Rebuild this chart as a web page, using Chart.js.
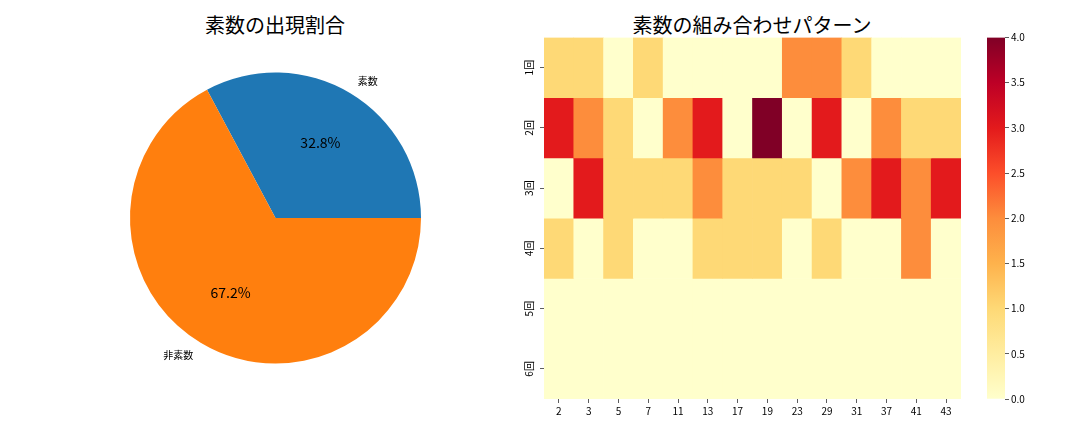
<!DOCTYPE html>
<html>
<head>
<meta charset="utf-8">
<script src="https://cdn.jsdelivr.net/npm/chart.js@4"></script>
<style>
  body { margin: 0; width: 1080px; height: 432px; background: #fff; position: relative; overflow: hidden; }
  .box { position: absolute; top: 0; height: 432px; }
  .title { position: absolute; top: 10px; width: 400px; text-align: center; font: 20px 'Noto Sans CJK JP', sans-serif; color: #000; }
</style>
</head>
<body>
<div class="title" style="left:75px">素数の出現割合</div>
<div class="title" style="left:552px">素数の組み合わせパターン</div>
<div class="box" style="left:0;width:540px"><canvas id="pie"></canvas></div>
<div class="box" style="left:520px;width:460px"><canvas id="heat"></canvas></div>
<div class="box" style="left:980px;width:100px"><canvas id="cbar"></canvas></div>
<script>
//! data
const pieLabels = ['素数', '非素数']
const pieValues = [32.8, 67.2]
const primes = ['2', '3', '5', '7', '11', '13', '17', '19', '23', '29', '31', '37', '41', '43']
const rowLabels = ['1回', '2回', '3回', '4回', '5回', '6回']
const counts = [
  [1, 1, 0, 1, 0, 0, 0, 0, 2, 2, 1, 0, 0, 0],
  [3, 2, 1, 0, 2, 3, 0, 4, 0, 3, 0, 2, 1, 1],
  [0, 3, 1, 1, 1, 2, 1, 1, 1, 0, 2, 3, 2, 3],
  [1, 0, 1, 0, 0, 1, 1, 1, 0, 1, 0, 0, 2, 0],
  [0, 0, 0, 0, 0, 0, 0, 0, 0, 0, 0, 0, 0, 0],
  [0, 0, 0, 0, 0, 0, 0, 0, 0, 0, 0, 0, 0, 0]
]
const cbarTicks = [0, 0.5, 1, 1.5, 2, 2.5, 3, 3.5, 4]
const vmax = 4

Chart.defaults.font.family = "'Noto Sans CJK JP', sans-serif"
Chart.defaults.color = '#000'
Chart.defaults.animation = false
Chart.defaults.plugins.legend.display = false
Chart.defaults.plugins.tooltip.enabled = false

// YlOrRd colormap
const ylOrRd = ['#ffffcc', '#ffeda0', '#fed976', '#feb24c', '#fd8d3c', '#fc4e2a', '#e31a1c', '#bd0026', '#800026']
const hex = h => [1, 3, 5].map(i => parseInt(h.slice(i, i + 2), 16))
function heatColor(v) {
  const t = Math.min(Math.max(v / vmax, 0), 1) * (ylOrRd.length - 1)
  const i = Math.min(Math.floor(t), ylOrRd.length - 2)
  const f = t - i
  const a = hex(ylOrRd[i]), b = hex(ylOrRd[i + 1])
  const c = a.map((x, k) => Math.round(x + (b[k] - x) * f))
  return `rgb(${c[0]},${c[1]},${c[2]})`
}

//! Pie
const total = pieValues.reduce((a, b) => a + b, 0)
const pieText = {
  id: 'pieText',
  afterDatasetsDraw(chart) {
    const ctx = chart.ctx
    chart.getDatasetMeta(0).data.forEach((arc, i) => {
      const mid = (arc.startAngle + arc.endAngle) / 2
      const r = arc.outerRadius
      ctx.save()
      ctx.fillStyle = '#000'
      ctx.textBaseline = 'middle'
      ctx.font = "10px 'Noto Sans CJK JP', sans-serif"
      ctx.textAlign = Math.cos(mid) >= 0 ? 'left' : 'right'
      ctx.fillText(pieLabels[i], arc.x + Math.cos(mid) * r * 1.1, arc.y + Math.sin(mid) * r * 1.1)
      ctx.font = "14px 'Noto Sans CJK JP', sans-serif"
      ctx.textAlign = 'center'
      ctx.fillText((pieValues[i] / total * 100).toFixed(1) + '%', arc.x + Math.cos(mid) * r * 0.6, arc.y + Math.sin(mid) * r * 0.6)
      ctx.restore()
    })
  }
}
new Chart(document.getElementById('pie'), {
  type: 'pie',
  data: {
    labels: pieLabels,
    datasets: [{ data: pieValues, backgroundColor: ['#1f77b4', '#ff7f0e'], borderWidth: 0 }]
  },
  options: {
    responsive: true,
    maintainAspectRatio: false,
    rotation: 90 - 360 * pieValues[0] / total,
    layout: { padding: { left: 130, right: 119, top: 72.5, bottom: 68.5 } }
  },
  plugins: [pieText]
})

//! Heatmap
new Chart(document.getElementById('heat'), {
  type: 'bar',
  data: {
    labels: primes,
    datasets: counts.map((row, r) => ({
      label: rowLabels[r],
      data: row.map(() => [r, r + 1]),
      backgroundColor: row.map(heatColor),
      borderWidth: 0,
      barPercentage: 1,
      categoryPercentage: 1,
      grouped: false
    }))
  },
  options: {
    responsive: true,
    maintainAspectRatio: false,
    layout: { padding: { left: 0, right: 19, top: 37.5, bottom: 13 } },
    scales: {
      x: {
        grid: { drawOnChartArea: false, offset: false, tickLength: 4, tickColor: '#333', tickWidth: 0.8 },
        border: { display: false },
        ticks: { font: { size: 10 }, maxRotation: 0, padding: 2 },
        afterFit: s => { s.height = 20 }
      },
      y: {
        min: 0,
        max: 6,
        reverse: true,
        grid: { drawOnChartArea: false, tickLength: 4, tickColor: '#333', tickWidth: 0.8 },
        border: { display: false },
        afterBuildTicks: s => { s.ticks = rowLabels.map((_, i) => ({ value: i + 0.5 })) },
        ticks: {
          font: { size: 10 },
          minRotation: 90,
          maxRotation: 90,
          crossAlign: 'center',
          padding: 3,
          callback: v => rowLabels[Math.floor(v)]
        },
        afterFit: s => { s.width = 24 }
      }
    }
  }
})

//! Colorbar
new Chart(document.getElementById('cbar'), {
  type: 'bar',
  data: {
    labels: [''],
    datasets: [{
      data: [[0, vmax]],
      borderWidth: 0,
      barPercentage: 1,
      categoryPercentage: 1,
      backgroundColor: ctx => {
        const area = ctx.chart.chartArea
        if (!area) return ylOrRd[0]
        const g = ctx.chart.ctx.createLinearGradient(0, area.bottom, 0, area.top)
        ylOrRd.forEach((c, i) => g.addColorStop(i / (ylOrRd.length - 1), c))
        return g
      }
    }]
  },
  options: {
    responsive: true,
    maintainAspectRatio: false,
    layout: { padding: { left: 7, right: 35, top: 37.5, bottom: 33 } },
    scales: {
      x: { display: false },
      y: {
        position: 'right',
        min: 0,
        max: vmax,
        grid: { drawOnChartArea: false, tickLength: 4, tickColor: '#333', tickWidth: 0.8 },
        border: { display: false },
        afterBuildTicks: s => { s.ticks = cbarTicks.map(v => ({ value: v })) },
        ticks: { font: { size: 10 }, padding: 2, callback: v => v.toFixed(1) },
        afterFit: s => { s.width = 40 }
      }
    }
  }
})
</script>
</body>
</html>
